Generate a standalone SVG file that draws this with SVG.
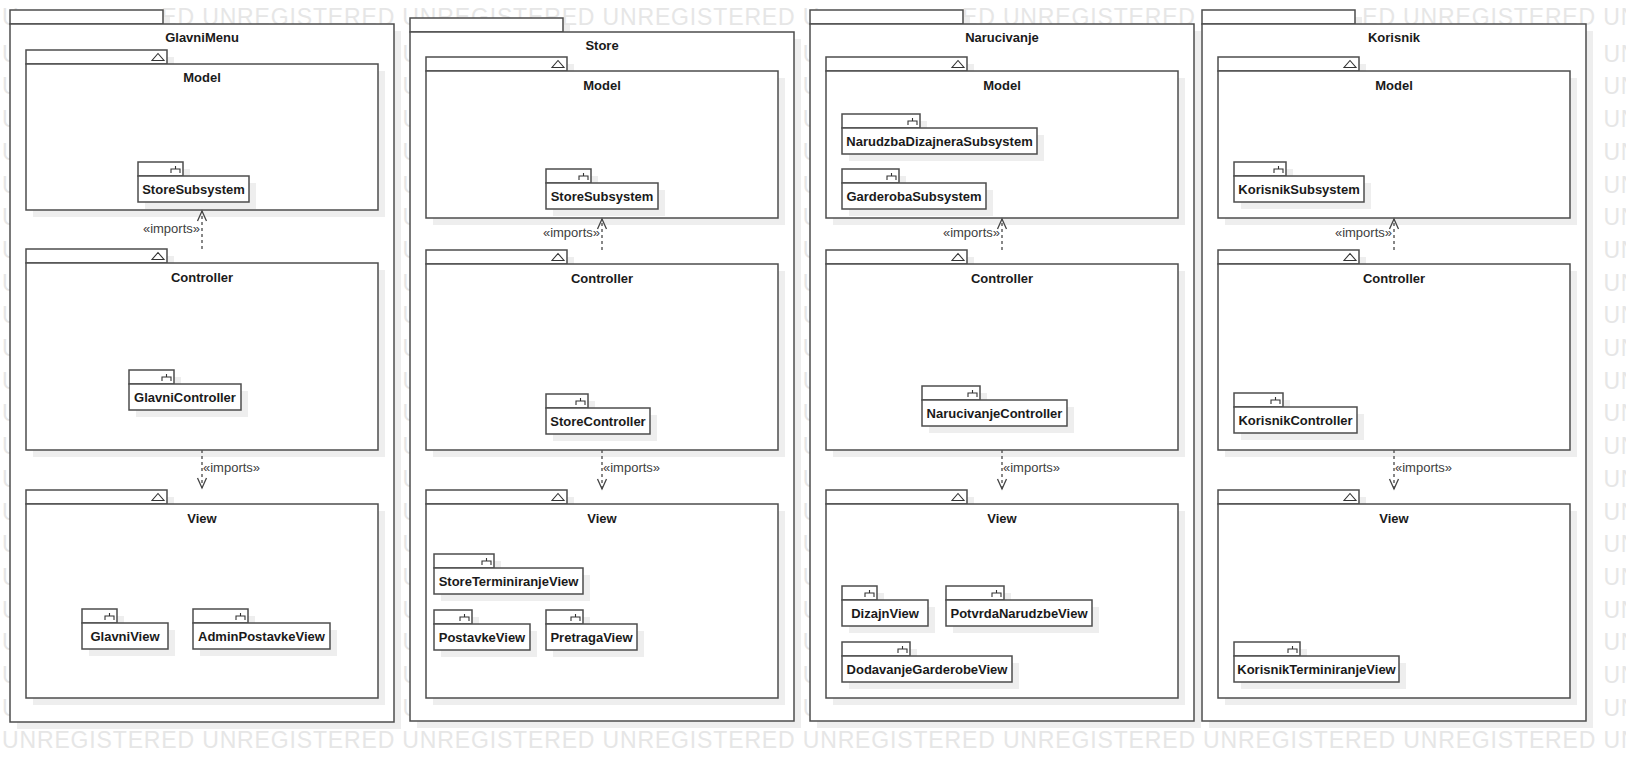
<svg xmlns="http://www.w3.org/2000/svg" xmlns:xlink="http://www.w3.org/1999/xlink" width="1626" height="762" viewBox="0 0 1626 762">
<style>
.bg{fill:#ffffff}
.wm{font-family:"Liberation Sans",Arial,sans-serif;font-size:23px;fill:#e6e6e6;letter-spacing:0.85px}
.sh{fill:#eeeeee}
.bx{fill:#ffffff;stroke:#4d4d4d;stroke-width:1.5}
.nm{font-family:"Liberation Sans",Arial,sans-serif;font-size:13px;font-weight:bold;fill:#1a1a1a;text-anchor:middle}
.im{font-family:"Liberation Sans",Arial,sans-serif;font-size:13px;fill:#404040}
.sym{fill:none;stroke:#333333;stroke-width:1.1}
.dep{fill:none;stroke:#555555;stroke-width:1.4;stroke-dasharray:3 3}
</style>
<defs>
<path id="tri" class="sym" d="M-12 0H0L-6 -7Z"/>
<path id="fork" class="sym" d="M-4.5 -7V-4M-9 0V-4H0V0"/>
<marker id="open" markerWidth="12" markerHeight="10" refX="10" refY="5" orient="auto" markerUnits="userSpaceOnUse" overflow="visible">
<path d="M0 0.5L10 5L0 9.5" fill="none" stroke="#444444" stroke-width="1.3"/>
</marker>
<g id="wmU">
<text class="wm" x="0" y="61.7">U</text><text class="wm" x="0" y="94.4">U</text><text class="wm" x="0" y="127.1">U</text>
<text class="wm" x="0" y="159.8">U</text><text class="wm" x="0" y="192.5">U</text><text class="wm" x="0" y="225.2">U</text>
<text class="wm" x="0" y="257.9">U</text><text class="wm" x="0" y="290.6">U</text><text class="wm" x="0" y="323.3">U</text>
<text class="wm" x="0" y="356">U</text><text class="wm" x="0" y="388.7">U</text><text class="wm" x="0" y="421.4">U</text>
<text class="wm" x="0" y="454.1">U</text><text class="wm" x="0" y="486.8">U</text><text class="wm" x="0" y="519.5">U</text>
<text class="wm" x="0" y="552.2">U</text><text class="wm" x="0" y="584.9">U</text><text class="wm" x="0" y="617.6">U</text>
<text class="wm" x="0" y="650.3">U</text><text class="wm" x="0" y="683">U</text><text class="wm" x="0" y="715.7">U</text>
</g>
<g id="wmUN">
<text class="wm" x="0" y="61.7">UN</text><text class="wm" x="0" y="94.4">UN</text><text class="wm" x="0" y="127.1">UN</text>
<text class="wm" x="0" y="159.8">UN</text><text class="wm" x="0" y="192.5">UN</text><text class="wm" x="0" y="225.2">UN</text>
<text class="wm" x="0" y="257.9">UN</text><text class="wm" x="0" y="290.6">UN</text><text class="wm" x="0" y="323.3">UN</text>
<text class="wm" x="0" y="356">UN</text><text class="wm" x="0" y="388.7">UN</text><text class="wm" x="0" y="421.4">UN</text>
<text class="wm" x="0" y="454.1">UN</text><text class="wm" x="0" y="486.8">UN</text><text class="wm" x="0" y="519.5">UN</text>
<text class="wm" x="0" y="552.2">UN</text><text class="wm" x="0" y="584.9">UN</text><text class="wm" x="0" y="617.6">UN</text>
<text class="wm" x="0" y="650.3">UN</text><text class="wm" x="0" y="683">UN</text><text class="wm" x="0" y="715.7">UN</text>
</g>
</defs>
<rect class="bg" x="0" y="0" width="1626" height="762"/>
<g id="watermark">
<text class="wm" x="2" y="25">U</text>
<text class="wm" x="161.3" y="25">ED UNREGISTERED UNREGISTERED UNREGISTERED U</text>
<text class="wm" x="962" y="25">ED UNREGISTERED</text>
<text class="wm" x="1362.2" y="25">ED UNREGISTERED UN</text>
<use xlink:href="#wmU" href="#wmU" x="2" y="0"/>
<use xlink:href="#wmU" href="#wmU" x="402.4" y="0"/>
<use xlink:href="#wmU" href="#wmU" x="802.7" y="0"/>
<use xlink:href="#wmUN" href="#wmUN" x="1603.4" y="0"/>
<text class="wm" x="2" y="748.4">UNREGISTERED UNREGISTERED UNREGISTERED UNREGISTERED UNREGISTERED UNREGISTERED UNREGISTERED UNREGISTERED UN</text>
</g>

<!-- ===== GlavniMenu ===== -->
<g id="pkg-GlavniMenu">
<rect class="sh" x="17" y="17" width="153" height="14"/><rect class="sh" x="17" y="31" width="384" height="698"/>
<rect class="bx" x="10" y="10" width="153" height="14"/><rect class="bx" x="10" y="24" width="384" height="698"/>
<text class="nm" x="202" y="42">GlavniMenu</text>
<g id="GlavniMenu-Model">
<rect class="sh" x="33" y="57" width="141" height="14"/><rect class="sh" x="33" y="71" width="352" height="146"/>
<rect class="bx" x="26" y="50" width="141" height="14"/><rect class="bx" x="26" y="64" width="352" height="146"/>
<use xlink:href="#tri" href="#tri" transform="translate(164,60.5)"/>
<text class="nm" x="202" y="82">Model</text>
<g id="GlavniMenu-StoreSubsystem">
<rect class="sh" x="145" y="169" width="45" height="14"/><rect class="sh" x="145" y="183" width="111" height="26"/>
<rect class="bx" x="138" y="162" width="45" height="14"/><rect class="bx" x="138" y="176" width="111" height="26"/>
<use xlink:href="#fork" href="#fork" transform="translate(180,173)"/>
<text class="nm" x="193.5" y="194">StoreSubsystem</text>
</g>
</g>
<g id="GlavniMenu-Controller">
<rect class="sh" x="33" y="256" width="141" height="14"/><rect class="sh" x="33" y="270" width="352" height="187"/>
<rect class="bx" x="26" y="249" width="141" height="14"/><rect class="bx" x="26" y="263" width="352" height="187"/>
<use xlink:href="#tri" href="#tri" transform="translate(164,259.5)"/>
<text class="nm" x="202" y="282">Controller</text>
<g id="GlavniMenu-GlavniController">
<rect class="sh" x="136" y="377" width="45" height="14"/><rect class="sh" x="136" y="391" width="112" height="26"/>
<rect class="bx" x="129" y="370" width="45" height="14"/><rect class="bx" x="129" y="384" width="112" height="26"/>
<use xlink:href="#fork" href="#fork" transform="translate(171,381)"/>
<text class="nm" x="185" y="402">GlavniController</text>
</g>
</g>
<g id="GlavniMenu-View">
<rect class="sh" x="33" y="497" width="141" height="14"/><rect class="sh" x="33" y="511" width="352" height="194"/>
<rect class="bx" x="26" y="490" width="141" height="14"/><rect class="bx" x="26" y="504" width="352" height="194"/>
<use xlink:href="#tri" href="#tri" transform="translate(164,500.5)"/>
<text class="nm" x="202" y="523">View</text>
<g id="GlavniMenu-GlavniView">
<rect class="sh" x="89" y="616" width="35" height="14"/><rect class="sh" x="89" y="630" width="86" height="26"/>
<rect class="bx" x="82" y="609" width="35" height="14"/><rect class="bx" x="82" y="623" width="86" height="26"/>
<use xlink:href="#fork" href="#fork" transform="translate(114,620)"/>
<text class="nm" x="125" y="641">GlavniView</text>
</g>
<g id="GlavniMenu-AdminPostavkeView">
<rect class="sh" x="200" y="616" width="55" height="14"/><rect class="sh" x="200" y="630" width="137" height="26"/>
<rect class="bx" x="193" y="609" width="55" height="14"/><rect class="bx" x="193" y="623" width="137" height="26"/>
<use xlink:href="#fork" href="#fork" transform="translate(245,620)"/>
<text class="nm" x="261.5" y="641">AdminPostavkeView</text>
</g>
</g>
</g>

<!-- ===== Store ===== -->
<g id="pkg-Store">
<rect class="sh" x="417" y="25" width="153" height="14"/><rect class="sh" x="417" y="39" width="384" height="689"/>
<rect class="bx" x="410" y="18" width="153" height="14"/><rect class="bx" x="410" y="32" width="384" height="689"/>
<text class="nm" x="602" y="50">Store</text>
<g id="Store-Model">
<rect class="sh" x="433" y="64" width="141" height="14"/><rect class="sh" x="433" y="78" width="352" height="147"/>
<rect class="bx" x="426" y="57" width="141" height="14"/><rect class="bx" x="426" y="71" width="352" height="147"/>
<use xlink:href="#tri" href="#tri" transform="translate(564,67.5)"/>
<text class="nm" x="602" y="90">Model</text>
<g id="Store-StoreSubsystem">
<rect class="sh" x="553" y="176" width="45" height="14"/><rect class="sh" x="553" y="190" width="112" height="26"/>
<rect class="bx" x="546" y="169" width="45" height="14"/><rect class="bx" x="546" y="183" width="112" height="26"/>
<use xlink:href="#fork" href="#fork" transform="translate(588,180)"/>
<text class="nm" x="602" y="201">StoreSubsystem</text>
</g>
</g>
<g id="Store-Controller">
<rect class="sh" x="433" y="257" width="141" height="14"/><rect class="sh" x="433" y="271" width="352" height="186"/>
<rect class="bx" x="426" y="250" width="141" height="14"/><rect class="bx" x="426" y="264" width="352" height="186"/>
<use xlink:href="#tri" href="#tri" transform="translate(564,260.5)"/>
<text class="nm" x="602" y="283">Controller</text>
<g id="Store-StoreController">
<rect class="sh" x="553" y="401" width="42" height="14"/><rect class="sh" x="553" y="415" width="104" height="26"/>
<rect class="bx" x="546" y="394" width="42" height="14"/><rect class="bx" x="546" y="408" width="104" height="26"/>
<use xlink:href="#fork" href="#fork" transform="translate(585,405)"/>
<text class="nm" x="598" y="426">StoreController</text>
</g>
</g>
<g id="Store-View">
<rect class="sh" x="433" y="497" width="141" height="14"/><rect class="sh" x="433" y="511" width="352" height="194"/>
<rect class="bx" x="426" y="490" width="141" height="14"/><rect class="bx" x="426" y="504" width="352" height="194"/>
<use xlink:href="#tri" href="#tri" transform="translate(564,500.5)"/>
<text class="nm" x="602" y="523">View</text>
<g id="Store-StoreTerminiranjeView">
<rect class="sh" x="441" y="561" width="60" height="14"/><rect class="sh" x="441" y="575" width="149" height="26"/>
<rect class="bx" x="434" y="554" width="60" height="14"/><rect class="bx" x="434" y="568" width="149" height="26"/>
<use xlink:href="#fork" href="#fork" transform="translate(491,565)"/>
<text class="nm" x="508.5" y="586">StoreTerminiranjeView</text>
</g>
<g id="Store-PostavkeView">
<rect class="sh" x="441" y="617" width="38" height="14"/><rect class="sh" x="441" y="631" width="96" height="26"/>
<rect class="bx" x="434" y="610" width="38" height="14"/><rect class="bx" x="434" y="624" width="96" height="26"/>
<use xlink:href="#fork" href="#fork" transform="translate(469,621)"/>
<text class="nm" x="482" y="642">PostavkeView</text>
</g>
<g id="Store-PretragaView">
<rect class="sh" x="553" y="617" width="37" height="14"/><rect class="sh" x="553" y="631" width="91" height="26"/>
<rect class="bx" x="546" y="610" width="37" height="14"/><rect class="bx" x="546" y="624" width="91" height="26"/>
<use xlink:href="#fork" href="#fork" transform="translate(580,621)"/>
<text class="nm" x="591.5" y="642">PretragaView</text>
</g>
</g>
</g>

<!-- ===== Narucivanje ===== -->
<g id="pkg-Narucivanje">
<rect class="sh" x="817" y="17" width="153" height="14"/><rect class="sh" x="817" y="31" width="384" height="697"/>
<rect class="bx" x="810" y="10" width="153" height="14"/><rect class="bx" x="810" y="24" width="384" height="697"/>
<text class="nm" x="1002" y="42">Narucivanje</text>
<g id="Narucivanje-Model">
<rect class="sh" x="833" y="64" width="141" height="14"/><rect class="sh" x="833" y="78" width="352" height="147"/>
<rect class="bx" x="826" y="57" width="141" height="14"/><rect class="bx" x="826" y="71" width="352" height="147"/>
<use xlink:href="#tri" href="#tri" transform="translate(964,67.5)"/>
<text class="nm" x="1002" y="90">Model</text>
<g id="Narucivanje-NarudzbaDizajneraSubsystem">
<rect class="sh" x="849" y="121" width="78" height="14"/><rect class="sh" x="849" y="135" width="195" height="26"/>
<rect class="bx" x="842" y="114" width="78" height="14"/><rect class="bx" x="842" y="128" width="195" height="26"/>
<use xlink:href="#fork" href="#fork" transform="translate(917,125)"/>
<text class="nm" x="939.5" y="146">NarudzbaDizajneraSubsystem</text>
</g>
<g id="Narucivanje-GarderobaSubsystem">
<rect class="sh" x="849" y="176" width="57" height="14"/><rect class="sh" x="849" y="190" width="144" height="26"/>
<rect class="bx" x="842" y="169" width="57" height="14"/><rect class="bx" x="842" y="183" width="144" height="26"/>
<use xlink:href="#fork" href="#fork" transform="translate(896,180)"/>
<text class="nm" x="914" y="201">GarderobaSubsystem</text>
</g>
</g>
<g id="Narucivanje-Controller">
<rect class="sh" x="833" y="257" width="141" height="14"/><rect class="sh" x="833" y="271" width="352" height="186"/>
<rect class="bx" x="826" y="250" width="141" height="14"/><rect class="bx" x="826" y="264" width="352" height="186"/>
<use xlink:href="#tri" href="#tri" transform="translate(964,260.5)"/>
<text class="nm" x="1002" y="283">Controller</text>
<g id="Narucivanje-NarucivanjeController">
<rect class="sh" x="929" y="393" width="58" height="14"/><rect class="sh" x="929" y="407" width="145" height="26"/>
<rect class="bx" x="922" y="386" width="58" height="14"/><rect class="bx" x="922" y="400" width="145" height="26"/>
<use xlink:href="#fork" href="#fork" transform="translate(977,397)"/>
<text class="nm" x="994.5" y="418">NarucivanjeController</text>
</g>
</g>
<g id="Narucivanje-View">
<rect class="sh" x="833" y="497" width="141" height="14"/><rect class="sh" x="833" y="511" width="352" height="194"/>
<rect class="bx" x="826" y="490" width="141" height="14"/><rect class="bx" x="826" y="504" width="352" height="194"/>
<use xlink:href="#tri" href="#tri" transform="translate(964,500.5)"/>
<text class="nm" x="1002" y="523">View</text>
<g id="Narucivanje-DizajnView">
<rect class="sh" x="849" y="593" width="35" height="14"/><rect class="sh" x="849" y="607" width="86" height="26"/>
<rect class="bx" x="842" y="586" width="35" height="14"/><rect class="bx" x="842" y="600" width="86" height="26"/>
<use xlink:href="#fork" href="#fork" transform="translate(874,597)"/>
<text class="nm" x="885" y="618">DizajnView</text>
</g>
<g id="Narucivanje-PotvrdaNarudzbeView">
<rect class="sh" x="953" y="593" width="58" height="14"/><rect class="sh" x="953" y="607" width="146" height="26"/>
<rect class="bx" x="946" y="586" width="58" height="14"/><rect class="bx" x="946" y="600" width="146" height="26"/>
<use xlink:href="#fork" href="#fork" transform="translate(1001,597)"/>
<text class="nm" x="1019" y="618">PotvrdaNarudzbeView</text>
</g>
<g id="Narucivanje-DodavanjeGarderobeView">
<rect class="sh" x="849" y="649" width="68" height="14"/><rect class="sh" x="849" y="663" width="170" height="26"/>
<rect class="bx" x="842" y="642" width="68" height="14"/><rect class="bx" x="842" y="656" width="170" height="26"/>
<use xlink:href="#fork" href="#fork" transform="translate(907,653)"/>
<text class="nm" x="927" y="674">DodavanjeGarderobeView</text>
</g>
</g>
</g>

<!-- ===== Korisnik ===== -->
<g id="pkg-Korisnik">
<rect class="sh" x="1209" y="17" width="153" height="14"/><rect class="sh" x="1209" y="31" width="384" height="697"/>
<rect class="bx" x="1202" y="10" width="153" height="14"/><rect class="bx" x="1202" y="24" width="384" height="697"/>
<text class="nm" x="1394" y="42">Korisnik</text>
<g id="Korisnik-Model">
<rect class="sh" x="1225" y="64" width="141" height="14"/><rect class="sh" x="1225" y="78" width="352" height="147"/>
<rect class="bx" x="1218" y="57" width="141" height="14"/><rect class="bx" x="1218" y="71" width="352" height="147"/>
<use xlink:href="#tri" href="#tri" transform="translate(1356,67.5)"/>
<text class="nm" x="1394" y="90">Model</text>
<g id="Korisnik-KorisnikSubsystem">
<rect class="sh" x="1241" y="169" width="52" height="14"/><rect class="sh" x="1241" y="183" width="130" height="26"/>
<rect class="bx" x="1234" y="162" width="52" height="14"/><rect class="bx" x="1234" y="176" width="130" height="26"/>
<use xlink:href="#fork" href="#fork" transform="translate(1283,173)"/>
<text class="nm" x="1299" y="194">KorisnikSubsystem</text>
</g>
</g>
<g id="Korisnik-Controller">
<rect class="sh" x="1225" y="257" width="141" height="14"/><rect class="sh" x="1225" y="271" width="352" height="186"/>
<rect class="bx" x="1218" y="250" width="141" height="14"/><rect class="bx" x="1218" y="264" width="352" height="186"/>
<use xlink:href="#tri" href="#tri" transform="translate(1356,260.5)"/>
<text class="nm" x="1394" y="283">Controller</text>
<g id="Korisnik-KorisnikController">
<rect class="sh" x="1241" y="400" width="49" height="14"/><rect class="sh" x="1241" y="414" width="123" height="26"/>
<rect class="bx" x="1234" y="393" width="49" height="14"/><rect class="bx" x="1234" y="407" width="123" height="26"/>
<use xlink:href="#fork" href="#fork" transform="translate(1280,404)"/>
<text class="nm" x="1295.5" y="425">KorisnikController</text>
</g>
</g>
<g id="Korisnik-View">
<rect class="sh" x="1225" y="497" width="141" height="14"/><rect class="sh" x="1225" y="511" width="352" height="194"/>
<rect class="bx" x="1218" y="490" width="141" height="14"/><rect class="bx" x="1218" y="504" width="352" height="194"/>
<use xlink:href="#tri" href="#tri" transform="translate(1356,500.5)"/>
<text class="nm" x="1394" y="523">View</text>
<g id="Korisnik-KorisnikTerminiranjeView">
<rect class="sh" x="1241" y="649" width="66" height="14"/><rect class="sh" x="1241" y="663" width="165" height="26"/>
<rect class="bx" x="1234" y="642" width="66" height="14"/><rect class="bx" x="1234" y="656" width="165" height="26"/>
<use xlink:href="#fork" href="#fork" transform="translate(1297,653)"/>
<text class="nm" x="1316.5" y="674">KorisnikTerminiranjeView</text>
</g>
</g>
</g>

<!-- ===== connectors ===== -->
<g id="connectors">
<path class="dep" d="M202 249V211" marker-end="url(#open)"/>
<text class="im" x="200" y="233" text-anchor="end">«imports»</text>
<path class="dep" d="M202 450V488" marker-end="url(#open)"/>
<text class="im" x="203" y="472">«imports»</text>

<path class="dep" d="M602 250V219" marker-end="url(#open)"/>
<text class="im" x="600" y="237" text-anchor="end">«imports»</text>
<path class="dep" d="M602 450V489" marker-end="url(#open)"/>
<text class="im" x="603" y="472">«imports»</text>

<path class="dep" d="M1002 250V219" marker-end="url(#open)"/>
<text class="im" x="1000" y="237" text-anchor="end">«imports»</text>
<path class="dep" d="M1002 450V489" marker-end="url(#open)"/>
<text class="im" x="1003" y="472">«imports»</text>

<path class="dep" d="M1394 250V219" marker-end="url(#open)"/>
<text class="im" x="1392" y="237" text-anchor="end">«imports»</text>
<path class="dep" d="M1394 450V489" marker-end="url(#open)"/>
<text class="im" x="1395" y="472">«imports»</text>
</g>
</svg>
